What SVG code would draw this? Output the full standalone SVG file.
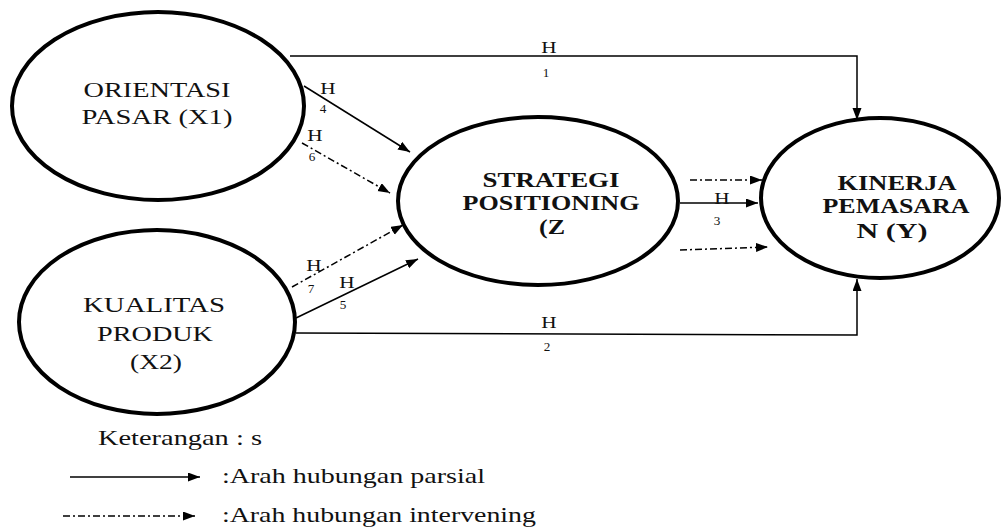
<svg xmlns="http://www.w3.org/2000/svg" width="1001" height="532" viewBox="0 0 1001 532">
<defs>
<marker id="ah" markerWidth="13" markerHeight="10" refX="12" refY="4.5" orient="auto" markerUnits="userSpaceOnUse"><path d="M0,0 L12,4.5 L0,9 z" fill="#000"/></marker>
<style>
.node{fill:#fff;stroke:#000;stroke-width:4}
.t{font-family:"Liberation Serif",serif;fill:#111;font-size:22px;text-anchor:middle}
.b{font-weight:bold;font-size:20px}
.c{fill:none;stroke:#000;stroke-width:1.5}
.d{stroke-dasharray:7 3 2 3}
.h{font-family:"Liberation Serif",serif;fill:#111;font-size:17px;text-anchor:middle}
.n{font-family:"Liberation Serif",serif;fill:#111;font-size:12px;text-anchor:middle}
.l{font-family:"Liberation Serif",serif;fill:#111;font-size:20px}
</style>
</defs>
<rect width="1001" height="532" fill="#fff"/>
<g id="connectors">
<path class="c" d="M290,56 L857,56 L857,120" marker-end="url(#ah)"/>
<path class="c" d="M296,333 L857,335 L857,279" marker-end="url(#ah)"/>
<path class="c" d="M304,86 L410,152" marker-end="url(#ah)"/>
<path class="c d" d="M302,143 L390,193" marker-end="url(#ah)"/>
<path class="c d" d="M292,287 L403,225" marker-end="url(#ah)"/>
<path class="c" d="M296,318 L418,259" marker-end="url(#ah)"/>
<path class="c" d="M680,203 L758,203" marker-end="url(#ah)"/>
<path class="c d" d="M690,180 L762,180" marker-end="url(#ah)"/>
<path class="c d" d="M680,250 L768,247" marker-end="url(#ah)"/>
<text class="h" transform="translate(549,53) scale(1.25,1)">H</text>
<text class="n" transform="translate(546,77) scale(1.1,1)">1</text>
<text class="h" transform="translate(549,328) scale(1.25,1)">H</text>
<text class="n" transform="translate(547,351) scale(1.1,1)">2</text>
<text class="h" transform="translate(722,204) scale(1.25,1)">H</text>
<text class="n" transform="translate(717,225) scale(1.1,1)">3</text>
<text class="h" transform="translate(328,94) scale(1.25,1)">H</text>
<text class="n" transform="translate(323,113) scale(1.1,1)">4</text>
<text class="h" transform="translate(347,288) scale(1.25,1)">H</text>
<text class="n" transform="translate(343,309) scale(1.1,1)">5</text>
<text class="h" transform="translate(315,141) scale(1.25,1)">H</text>
<text class="n" transform="translate(312,161) scale(1.1,1)">6</text>
<text class="h" transform="translate(314,271) scale(1.25,1)">H</text>
<text class="n" transform="translate(311,293) scale(1.1,1)">7</text>
</g>
<g id="orientasi">
<ellipse class="node" cx="158" cy="106" rx="146" ry="94"/>
<text class="t" transform="translate(157,97) scale(1.33,1)" textLength="110.5" lengthAdjust="spacingAndGlyphs">ORIENTASI</text>
<text class="t" transform="translate(157,124) scale(1.33,1)" textLength="113.5" lengthAdjust="spacingAndGlyphs">PASAR (X1)</text>
</g>
<g id="kualitas">
<ellipse class="node" cx="157" cy="322" rx="138" ry="92"/>
<text class="t" transform="translate(154,312) scale(1.33,1)" textLength="106.8" lengthAdjust="spacingAndGlyphs">KUALITAS</text>
<text class="t" transform="translate(155,341) scale(1.33,1)" textLength="87.2" lengthAdjust="spacingAndGlyphs">PRODUK</text>
<text class="t" transform="translate(156,369) scale(1.33,1)" textLength="39.1" lengthAdjust="spacingAndGlyphs">(X2)</text>
</g>
<g id="strategi">
<ellipse class="node" cx="538" cy="201" rx="140" ry="84"/>
<text class="t b" transform="translate(551,187) scale(1.35,1)" textLength="101.5" lengthAdjust="spacingAndGlyphs">STRATEGI</text>
<text class="t b" transform="translate(551,210) scale(1.35,1)" textLength="131.1" lengthAdjust="spacingAndGlyphs">POSITIONING</text>
<text class="t b" transform="translate(552,234) scale(1.35,1)" textLength="19.3" lengthAdjust="spacingAndGlyphs">(Z</text>
</g>
<g id="kinerja">
<ellipse class="node" cx="880" cy="198" rx="119" ry="80"/>
<text class="t b" transform="translate(897,190) scale(1.35,1)" textLength="88.1" lengthAdjust="spacingAndGlyphs">KINERJA</text>
<text class="t b" transform="translate(896,213) scale(1.35,1)" textLength="108.9" lengthAdjust="spacingAndGlyphs">PEMASARA</text>
<text class="t b" transform="translate(892,238) scale(1.35,1)" textLength="52.6" lengthAdjust="spacingAndGlyphs">N (Y)</text>
</g>
<g id="legend">
<text class="l" transform="translate(98,445) scale(1.5,1)" textLength="109.3" lengthAdjust="spacingAndGlyphs">Keterangan : s</text>
<path class="c" d="M70,477 L200,477" marker-end="url(#ah)"/>
<text class="l" transform="translate(222,483) scale(1.5,1)" textLength="175.3" lengthAdjust="spacingAndGlyphs">:Arah hubungan parsial</text>
<path class="c d" d="M63,516 L195,516" marker-end="url(#ah)"/>
<text class="l" transform="translate(222,522) scale(1.5,1)" textLength="209.3" lengthAdjust="spacingAndGlyphs">:Arah hubungan intervening</text>
</g>
</svg>
